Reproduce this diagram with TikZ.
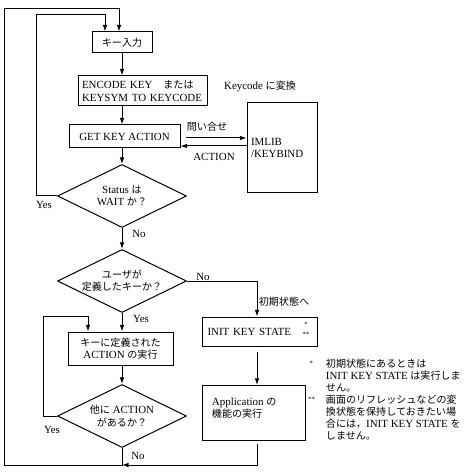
\documentclass[tikz,border=0pt]{standalone}
\usepackage{fontspec}
\setmainfont{Liberation Serif}
\newfontfamily\jp[Scale=0.92]{Noto Sans CJK JP}
\usepackage{tikz}
\usetikzlibrary{arrows.meta,shapes.geometric}
\newcommand{\ja}[1]{{\jp #1}}
\newdimen\pxu
\pxu=0.75pt

\begin{document}
\begin{tikzpicture}[x=0.75pt,y=-0.75pt,line width=0.75pt,
  every node/.style={font=\fontsize{8.2}{9.2}\selectfont},
  box/.style={draw,inner sep=0pt},
  decision/.style={draw,diamond,aspect=2,inner sep=0pt,minimum width=129\pxu,minimum height=63\pxu,align=center},
  flow/.style={-{Latex[length=5pt,width=3.5pt]}}]
\useasboundingbox (0,0) rectangle (463,473);

% corners of the loops
\coordinate (loopA) at (4,9);
\coordinate (inA) at (119,9);
\coordinate (loopB) at (36,15);
\coordinate (inB) at (105,15);
\coordinate (loopC) at (43,316);
\coordinate (inC) at (88,316);
\coordinate (bot) at (122,465);
\coordinate (rcol) at (257,465);
\coordinate (qs) at (186,138);
\coordinate (ar) at (247,146);

% boxes
\node[box,minimum width=60\pxu,minimum height=21\pxu] (input) at (122,42.5) {\ja{キー入力}};
\node[box,minimum width=129\pxu,minimum height=30\pxu,align=left,text width=121\pxu] (encode) at (142.5,91) {ENCODE KEY\quad\ja{または}\\KEYSYM TO KEYCODE};
\node (keycode) at (260,86) {Keycode \ja{に変換}};
\node[box,minimum width=111\pxu,minimum height=23\pxu] (getkey) at (124.5,136.5) {GET KEY ACTION};
\node[box,minimum width=70\pxu,minimum height=90\pxu,align=left,text width=62\pxu] (imlib) at (282,148) {IMLIB\\/KEYBIND};
\node (query) at (207,127) {\ja{問い合せ}};
\node (reply) at (214,157) {ACTION};

\node[decision] (status) at (122,196) {Status \ja{は}\\WAIT \ja{か？}};
\node[decision] (user) at (122,281) {\ja{ユーザが}\\\ja{定義したキーか？}};
\node[box,minimum width=105\pxu,minimum height=33\pxu,align=center] (action) at (120.5,348.5) {\ja{キーに定義された}\\ACTION \ja{の実行}};
\node[decision] (other) at (122,416) {\ja{他に} ACTION\\\ja{があるか？}};

\node[box,minimum width=115\pxu,minimum height=29\pxu,align=left,text width=104\pxu] (init) at (259.5,331.5) {INIT KEY STATE};
\node[font=\fontsize{5}{7.5}\selectfont,align=center] (initmark) at (306,329) {*\\**};
\node[box,minimum width=103\pxu,minimum height=55\pxu] (app) at (253.5,413) {};
\node[anchor=north west,align=left] (apptext) at (207,393) {Application \ja{の}\\\ja{機能の実行}};

% notes
\node[anchor=north west,align=left,font=\fontsize{8.2}{9}\selectfont] (note1) at (321,354) {\ja{初期状態にあるときは}\\INIT KEY STATE \ja{は実行しま}\\\ja{せん。}};
\node[anchor=north east,font=\fontsize{5}{5}\selectfont] (mark1) at (318,356) {*};
\node[anchor=north west,align=left,font=\fontsize{8.2}{9}\selectfont] (note2) at (321,390) {\ja{画面のリフレッシュなどの変}\\\ja{換状態を保持しておきたい場}\\\ja{合には，}INIT KEY STATE \ja{を}\\\ja{しません。}};
\node[anchor=north east,font=\fontsize{5}{5}\selectfont] (mark2) at (320,392) {**};

% labels
\node (noA) at (139,234) {No};
\node (yesA) at (44,205) {Yes};
\node (noB) at (203,277) {No};
\node (toinit) at (284,302) {\ja{初期状態へ}};
\node (yesB) at (141,319) {Yes};
\node (yesC) at (52,430) {Yes};
\node (noC) at (138,456) {No};

% main flow
\draw[flow] (input.south) -- (input.south |- encode.north);
\draw[flow] (input.south |- encode.south) -- (input.south |- getkey.north);
\draw[flow] (input.south |- getkey.south) -- (status.north);
\draw[flow] (qs) -- (qs -| imlib.west);
\draw[flow] (ar) -- (ar -| getkey.east);
\draw[flow] (status.south) -- (user.north);
\draw[flow] (user.south) -- (user.south |- action.north);
\draw[flow] (user.south |- action.south) -- (other.north);
\draw[flow] (user.east) -- (user.east -| rcol) -- (rcol |- init.north);
\draw[flow,shorten <=5\pxu] (rcol |- init.south) -- (rcol |- app.north);

% loops
\draw[flow] (status.west) -- (status.west -| loopB) -- (loopB) -- (inB) -- (inB |- input.north);
\draw[flow] (other.west) -- (other.west -| loopC) -- (loopC) -- (inC) -- (inC |- action.north);
\draw[flow] (other.south) -- (bot) -- (bot -| loopA) -- (loopA) -- (inA) -- (inA |- input.north);
\draw[flow,shorten <=3\pxu] (rcol |- app.south) -- (rcol) -- (bot);
\end{tikzpicture}
\end{document}
